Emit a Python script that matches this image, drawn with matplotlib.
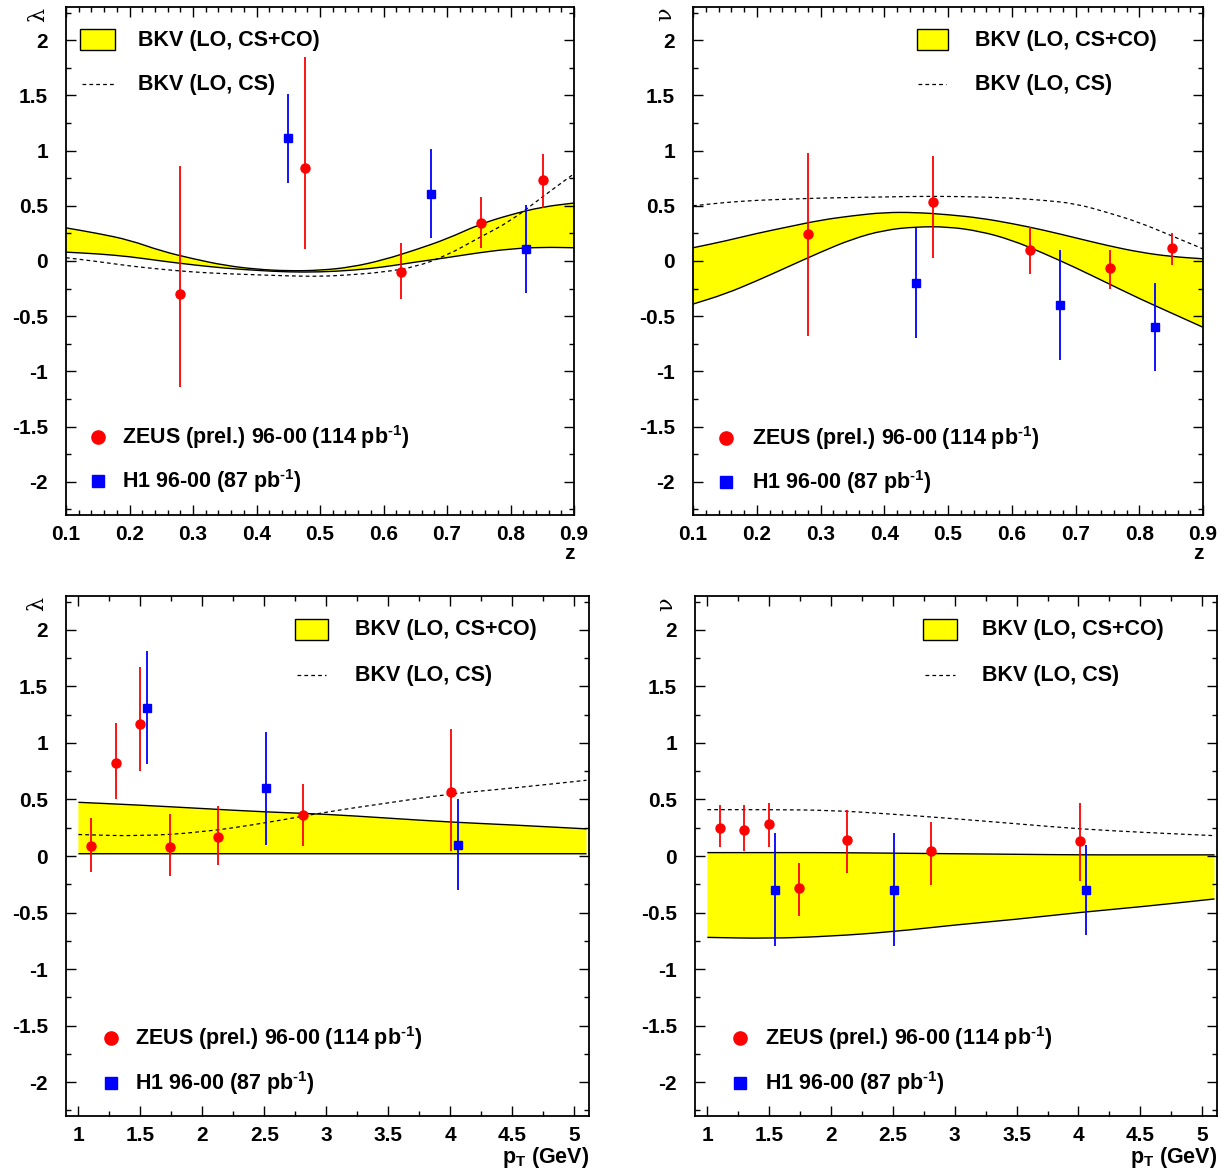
import matplotlib
matplotlib.use("Agg")
import matplotlib.pyplot as plt
from matplotlib.patches import Rectangle, PathPatch
from matplotlib.path import Path
from matplotlib.lines import Line2D
from matplotlib.ticker import MultipleLocator

plt.rcParams['font.family'] = ['Liberation Sans', 'DejaVu Sans']
plt.rcParams['font.weight'] = 'bold'
plt.rcParams['mathtext.fontset'] = 'custom'
plt.rcParams['mathtext.rm'] = 'Liberation Sans:bold'
plt.rcParams['mathtext.it'] = 'Liberation Sans:bold'
plt.rcParams['mathtext.bf'] = 'Liberation Sans:bold'

# ---------------- data: lambda vs z ----------------
z_grid = [0.10, 0.15, 0.20, 0.25, 0.30, 0.35, 0.40, 0.45, 0.50, 0.55, 0.60, 0.65, 0.70, 0.75, 0.80, 0.85, 0.90]
lam_z_up = [0.30, 0.25, 0.19, 0.09, 0.02, -0.04, -0.075, -0.09, -0.085, -0.055, 0.01, 0.10, 0.20, 0.33, 0.42, 0.49, 0.525]
lam_z_lo = [0.08, 0.065, 0.04, 0.00, -0.035, -0.065, -0.085, -0.10, -0.10, -0.085, -0.055, -0.01, 0.03, 0.075, 0.11, 0.125, 0.12]
lam_z_cs = [0.03, -0.005, -0.045, -0.075, -0.10, -0.115, -0.125, -0.135, -0.14, -0.125, -0.10, -0.055, 0.05, 0.21, 0.36, 0.58, 0.79]

zeus_z = [0.28, 0.476, 0.628, 0.754, 0.851]
zeus_lam_z = [-0.30, 0.84, -0.10, 0.34, 0.73]
zeus_lam_z_eup = [1.16, 1.01, 0.26, 0.24, 0.24]
zeus_lam_z_edn = [0.84, 0.73, 0.24, 0.22, 0.25]

h1_z = [0.45, 0.675, 0.824]
h1_lam_z = [1.11, 0.61, 0.11]
h1_lam_z_err = [0.40, 0.40, 0.40]

# ---------------- data: nu vs z ----------------
nu_z_up = [0.12, 0.18, 0.25, 0.31, 0.37, 0.41, 0.44, 0.44, 0.42, 0.39, 0.34, 0.28, 0.21, 0.14, 0.08, 0.04, 0.02]
nu_z_lo = [-0.39, -0.30, -0.18, -0.05, 0.08, 0.20, 0.28, 0.31, 0.31, 0.27, 0.19, 0.07, -0.06, -0.20, -0.34, -0.47, -0.60]
nu_z_cs = [0.50, 0.53, 0.55, 0.56, 0.57, 0.575, 0.58, 0.585, 0.585, 0.58, 0.57, 0.55, 0.52, 0.44, 0.35, 0.23, 0.11]

zeus_nu_z = [0.24, 0.53, 0.10, -0.06, 0.12]
zeus_nu_z_eup = [0.74, 0.42, 0.21, 0.16, 0.13]
zeus_nu_z_edn = [0.92, 0.50, 0.22, 0.19, 0.16]

h1_nu_z = [-0.20, -0.40, -0.60]
h1_nu_z_err = [0.50, 0.50, 0.40]

# ---------------- data: lambda vs pT ----------------
pt_grid = [1.0, 1.5, 2.0, 2.5, 3.0, 3.5, 4.0, 4.5, 5.1]
lam_pt_up = [0.475, 0.45, 0.42, 0.39, 0.37, 0.335, 0.30, 0.275, 0.24]
lam_pt_lo = [0.02, 0.02, 0.02, 0.02, 0.02, 0.02, 0.02, 0.02, 0.02]
lam_pt_cs = [0.19, 0.175, 0.21, 0.29, 0.39, 0.47, 0.55, 0.60, 0.67]

zeus_pt = [1.105, 1.30, 1.50, 1.74, 2.13, 2.81, 4.01]
zeus_lam_pt = [0.09, 0.82, 1.17, 0.08, 0.17, 0.36, 0.57]
zeus_lam_pt_eup = [0.25, 0.36, 0.50, 0.29, 0.27, 0.28, 0.55]
zeus_lam_pt_edn = [0.23, 0.32, 0.42, 0.26, 0.25, 0.27, 0.53]

h1_pt = [1.55, 2.51, 4.06]
h1_lam_pt = [1.31, 0.60, 0.10]
h1_lam_pt_err = [0.50, 0.50, 0.40]

# ---------------- data: nu vs pT ----------------
nu_pt_up = [0.03, 0.03, 0.03, 0.025, 0.02, 0.015, 0.01, 0.01, 0.01]
nu_pt_lo = [-0.72, -0.73, -0.71, -0.67, -0.61, -0.56, -0.50, -0.45, -0.38]
nu_pt_cs = [0.41, 0.41, 0.405, 0.37, 0.33, 0.285, 0.24, 0.21, 0.18]

zeus_nu_pt = [0.25, 0.23, 0.28, -0.28, 0.14, 0.04, 0.13]
zeus_nu_pt_eup = [0.20, 0.22, 0.19, 0.22, 0.27, 0.26, 0.34]
zeus_nu_pt_edn = [0.17, 0.19, 0.20, 0.25, 0.29, 0.30, 0.35]

h1_nu_pt = [-0.30, -0.30, -0.30]
h1_nu_pt_err = [0.50, 0.50, 0.40]

# ---------------- tick labels ----------------
y_ticks = [-2, -1.5, -1, -0.5, 0, 0.5, 1, 1.5, 2]
y_ticklabels = ['-2', '-1.5', '-1', '-0.5', '0', '0.5', '1', '1.5', '2']
z_ticks = [0.1, 0.2, 0.3, 0.4, 0.5, 0.6, 0.7, 0.8, 0.9]
z_ticklabels = ['0.1', '0.2', '0.3', '0.4', '0.5', '0.6', '0.7', '0.8', '0.9']
pt_ticks = [1, 1.5, 2, 2.5, 3, 3.5, 4, 4.5, 5]
pt_ticklabels = ['1', '1.5', '2', '2.5', '3', '3.5', '4', '4.5', '5']

W, H = 1225, 1176
fig = plt.figure(figsize=(W / 100, H / 100), dpi=100)


def px_axes(l, r, t, b):
    return fig.add_axes([l / W, 1 - b / H, (r - l) / W, (b - t) / H])


YELLOW = '#ffff00'
FS_TICK = 15
FS_LEG = 15.5
DASH = (0, (3, 2.5))


def smooth_segments(xs, ys):
    """Quadratic-Bezier rendering through the read points (drawing style only)."""
    pts = list(zip(xs, ys))
    verts = [pts[0]]
    codes = []
    mids = [((pts[i][0] + pts[i + 1][0]) / 2, (pts[i][1] + pts[i + 1][1]) / 2)
            for i in range(len(pts) - 1)]
    verts.append(mids[0])
    codes.append(Path.LINETO)
    for i in range(1, len(pts) - 1):
        verts += [pts[i], mids[i]]
        codes += [Path.CURVE3, Path.CURVE3]
    verts.append(pts[-1])
    codes.append(Path.LINETO)
    return verts, codes


def smooth_line(ax, xs, ys, **kw):
    v, c = smooth_segments(xs, ys)
    ax.add_patch(PathPatch(Path(v, [Path.MOVETO] + c), fill=False, **kw))


def smooth_band(ax, xs, lo, up, color):
    vu, cu = smooth_segments(xs, up)
    vl, cl = smooth_segments(xs[::-1], lo[::-1])
    verts = vu + vl + [vu[0]]
    codes = [Path.MOVETO] + cu + [Path.LINETO] + cl + [Path.CLOSEPOLY]
    ax.add_patch(PathPatch(Path(verts, codes), facecolor=color, lw=0, zorder=1))


def style(ax, xticks, xlabels, xminor, xlim):
    ax.set_xlim(*xlim)
    ax.set_ylim(-2.3, 2.3)
    ax.set_xticks(xticks)
    ax.set_xticklabels(xlabels, fontsize=FS_TICK, fontweight='bold')
    ax.set_yticks(y_ticks)
    ax.set_yticklabels(y_ticklabels, fontsize=FS_TICK, fontweight='bold')
    ax.xaxis.set_minor_locator(MultipleLocator(xminor))
    ax.yaxis.set_minor_locator(MultipleLocator(0.25))
    ax.tick_params(which='both', direction='in', top=True, right=True, width=1.0)
    ax.tick_params(which='major', length=7)
    ax.tick_params(which='minor', length=3.5)
    ax.tick_params(axis='y', which='major', pad=13)
    ax.tick_params(axis='x', which='major', pad=7)
    for s in ax.spines.values():
        s.set_linewidth(1.3)


def draw(ax, xg, up, lo, cs, zx, zy, zeu, zed, hx, hy, he):
    smooth_band(ax, xg, lo, up, YELLOW)
    smooth_line(ax, xg, up, edgecolor='black', lw=1.0, zorder=2)
    smooth_line(ax, xg, lo, edgecolor='black', lw=1.0, zorder=2)
    smooth_line(ax, xg, cs, edgecolor='black', lw=0.9, ls=DASH, zorder=2)
    ax.errorbar(zx, zy, yerr=[zed, zeu], fmt='o', color='#ff0000', ms=6.5,
                elinewidth=1.3, capsize=0, zorder=4)
    ax.errorbar(hx, hy, yerr=he, fmt='s', color='#0000ff', ms=6,
                elinewidth=1.3, capsize=0, zorder=3)


def legends(ax, top_x, bot_x, bot_y):
    bx0, bx1, tx = top_x
    ax.add_patch(Rectangle((bx0, 0.916), bx1 - bx0, 0.04, transform=ax.transAxes,
                           facecolor=YELLOW, edgecolor='black', lw=1.0, zorder=5))
    ax.text(tx, 0.935, 'BKV (LO, CS+CO)', transform=ax.transAxes, fontsize=FS_LEG,
            fontweight='bold', va='center', ha='left')
    ax.add_line(Line2D([bx0 + 0.003, bx1 - 0.003], [0.848, 0.848], transform=ax.transAxes,
                       color='black', lw=0.9, ls=DASH))
    ax.text(tx, 0.848, 'BKV (LO, CS)', transform=ax.transAxes, fontsize=FS_LEG,
            fontweight='bold', va='center', ha='left')
    mx, txx = bot_x
    y1, y2 = bot_y
    ax.plot([mx], [y1], 'o', color='#ff0000', ms=9.5, transform=ax.transAxes, clip_on=False)
    ax.text(txx, y1, r'ZEUS (prel.) 96-00 (114 pb$^{\text{-1}}$)', transform=ax.transAxes,
            fontsize=FS_LEG, fontweight='bold', va='center', ha='left')
    ax.plot([mx], [y2], 's', color='#0000ff', ms=9, transform=ax.transAxes, clip_on=False)
    ax.text(txx, y2, r'H1 96-00 (87 pb$^{\text{-1}}$)', transform=ax.transAxes,
            fontsize=FS_LEG, fontweight='bold', va='center', ha='left')


# Top-left: lambda vs z
ax1 = px_axes(66, 574, 7, 515)
style(ax1, z_ticks, z_ticklabels, 0.02, (0.1, 0.9))
draw(ax1, z_grid, lam_z_up, lam_z_lo, lam_z_cs, zeus_z, zeus_lam_z, zeus_lam_z_eup,
     zeus_lam_z_edn, h1_z, h1_lam_z, h1_lam_z_err)
legends(ax1, (0.028, 0.097, 0.142), (0.063, 0.110), (0.154, 0.067))

# Top-right: nu vs z
ax2 = px_axes(693, 1203, 7, 515)
style(ax2, z_ticks, z_ticklabels, 0.02, (0.1, 0.9))
draw(ax2, z_grid, nu_z_up, nu_z_lo, nu_z_cs, zeus_z, zeus_nu_z, zeus_nu_z_eup,
     zeus_nu_z_edn, h1_z, h1_nu_z, h1_nu_z_err)
legends(ax2, (0.439, 0.500, 0.553), (0.065, 0.115), (0.152, 0.065))

# Bottom-left: lambda vs pT
ax3 = px_axes(66, 589, 596, 1116)
style(ax3, pt_ticks, pt_ticklabels, 0.25, (0.9, 5.12))
draw(ax3, pt_grid, lam_pt_up, lam_pt_lo, lam_pt_cs, zeus_pt, zeus_lam_pt, zeus_lam_pt_eup,
     zeus_lam_pt_edn, h1_pt, h1_lam_pt, h1_lam_pt_err)
legends(ax3, (0.438, 0.500, 0.553), (0.086, 0.132), (0.150, 0.063))

# Bottom-right: nu vs pT
ax4 = px_axes(695, 1217, 596, 1116)
style(ax4, pt_ticks, pt_ticklabels, 0.25, (0.9, 5.12))
draw(ax4, pt_grid, nu_pt_up, nu_pt_lo, nu_pt_cs, zeus_pt, zeus_nu_pt, zeus_nu_pt_eup,
     zeus_nu_pt_edn, h1_pt, h1_nu_pt, h1_nu_pt_err)
legends(ax4, (0.437, 0.502, 0.550), (0.086, 0.134), (0.150, 0.063))

# axis titles
for ax, sym in [(ax1, 'λ'), (ax3, 'λ'), (ax2, 'ν'), (ax4, 'ν')]:
    ax.text(-0.055, 0.985, sym, transform=ax.transAxes, rotation=90, fontsize=16,
            fontweight='normal', family=['DejaVu Serif'], ha='center', va='center')
for ax in (ax1, ax2):
    ax.text(0.99, -0.075, 'z', transform=ax.transAxes, fontsize=FS_TICK,
            fontweight='bold', ha='center', va='center')
for ax in (ax3, ax4):
    ax.text(1.0, -0.079, r'p$_{\mathrm{T}}$ (GeV)', transform=ax.transAxes, fontsize=FS_TICK + 0.5,
            fontweight='bold', ha='right', va='center')

fig.savefig('out.png', dpi=100, facecolor='white')
